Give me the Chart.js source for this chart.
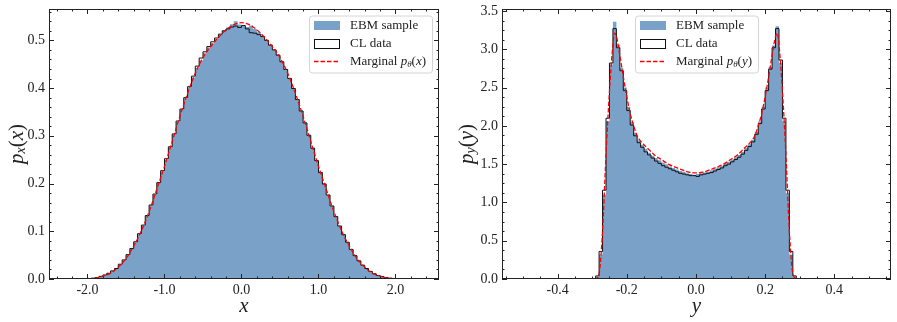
<!DOCTYPE html>
<html>
<head>
<meta charset="utf-8">
<title>EBM marginals</title>
<style>
  body { margin: 0; background: #fff; }
  canvas { position: absolute; top: 0; }
  #left { left: 0; }
  #right { left: 450px; }
</style>
</head>
<body>
<canvas id="left" width="450" height="322"></canvas>
<canvas id="right" width="447" height="322"></canvas>
<script src="https://cdn.jsdelivr.net/npm/chart.js"></script>
<script>
// ---- left panel: p_x(x) ----
const xBinStart = -2.1;
const xBinWidth = 0.05;
const ebmX = [
  0.0001, 0.0004, 0.0009, 0.0016, 0.003, 0.005, 0.008, 0.011, 0.016, 0.021,
  0.030, 0.039, 0.050, 0.063, 0.077, 0.094, 0.112, 0.132, 0.154, 0.177,
  0.201, 0.225, 0.250, 0.276, 0.303, 0.329, 0.354, 0.378, 0.401, 0.422,
  0.442, 0.458, 0.473, 0.485, 0.494, 0.503, 0.512, 0.520, 0.527, 0.534,
  0.540, 0.533,
  0.530, 0.528, 0.531, 0.524, 0.517, 0.509, 0.501, 0.491, 0.481, 0.470,
  0.456, 0.440, 0.421, 0.400, 0.377, 0.353, 0.328, 0.302, 0.275, 0.249,
  0.224, 0.200, 0.176, 0.153, 0.131, 0.111, 0.093, 0.077, 0.062, 0.049,
  0.038, 0.029, 0.021, 0.015, 0.011, 0.007, 0.005, 0.003, 0.0015, 0.0008,
  0.0004, 0.0001
];
const clX = [
  0.0001, 0.0003, 0.0008, 0.0017, 0.0032, 0.0055, 0.0085, 0.012, 0.017, 0.022,
  0.031, 0.040, 0.051, 0.064, 0.078, 0.095, 0.113, 0.133, 0.155, 0.178,
  0.202, 0.227, 0.252, 0.277, 0.304, 0.331, 0.356, 0.380, 0.403, 0.425,
  0.446, 0.463, 0.476, 0.487, 0.497, 0.505, 0.513, 0.520, 0.524, 0.528,
  0.530, 0.527,
  0.531, 0.524, 0.516, 0.515, 0.512, 0.508, 0.500, 0.490, 0.480, 0.469,
  0.455, 0.439, 0.420, 0.399, 0.376, 0.352, 0.327, 0.301, 0.274, 0.248,
  0.223, 0.199, 0.176, 0.153, 0.131, 0.111, 0.093, 0.077, 0.062, 0.049,
  0.038, 0.029, 0.022, 0.016, 0.011, 0.0075, 0.005, 0.0032, 0.0018, 0.0009,
  0.0004, 0.0001
];
// marginal p_theta(x) sampled every 0.1 from -2.5 to 2.5
const margXStart = -2.5;
const margXStep = 0.1;
const margX = [
  0, 0, 0, 0.0001, 0.0002, 0.0006, 0.002, 0.006, 0.012, 0.025,
  0.043, 0.069, 0.101, 0.141, 0.188, 0.236, 0.288, 0.341, 0.389, 0.431,
  0.464, 0.487, 0.506, 0.522, 0.533, 0.537, 0.533, 0.522, 0.506, 0.487,
  0.464, 0.431, 0.389, 0.341, 0.288, 0.236, 0.188, 0.141, 0.101, 0.069,
  0.043, 0.025, 0.012, 0.006, 0.002, 0.0006, 0.0002, 0.0001, 0, 0, 0
];
const leftXTicks = [-2, -1, 0, 1, 2];
const leftYTicks = [0, 0.1, 0.2, 0.3, 0.4, 0.5];

// ---- right panel: p_y(y) ----
const yBinStart = -0.3;
const yBinWidth = 0.01;
const ebmY = [
  0.002, 0.03, 0.32, 1.10, 2.06, 2.80, 3.36, 3.06, 2.76, 2.50,
  2.25, 2.05, 1.91, 1.81, 1.75, 1.70, 1.65, 1.61, 1.58, 1.55,
  1.52, 1.50, 1.47, 1.45, 1.43, 1.41, 1.40, 1.38, 1.37, 1.36,
  1.37, 1.38, 1.39, 1.40, 1.42, 1.44, 1.46, 1.48, 1.51, 1.53,
  1.56, 1.59, 1.62, 1.66, 1.71, 1.76, 1.82, 1.92, 2.06, 2.25,
  2.50, 2.77, 3.05, 3.30, 2.82, 2.06, 1.12, 0.32, 0.03, 0.002
];
const clY = [
  0.001, 0.04, 0.36, 1.16, 2.10, 2.82, 3.27, 3.02, 2.72, 2.46,
  2.20, 2.01, 1.87, 1.78, 1.72, 1.66, 1.62, 1.58, 1.54, 1.51,
  1.48, 1.46, 1.44, 1.42, 1.40, 1.38, 1.37, 1.36, 1.35, 1.35,
  1.34, 1.36, 1.37, 1.38, 1.39, 1.41, 1.43, 1.45, 1.48, 1.50,
  1.53, 1.56, 1.59, 1.63, 1.68, 1.73, 1.79, 1.89, 2.03, 2.22,
  2.46, 2.74, 3.02, 3.27, 2.86, 2.10, 1.16, 0.36, 0.04, 0.001
];
const margYAt = [
  -0.50, -0.40, -0.30, -0.29, -0.28, -0.27, -0.26, -0.25, -0.24, -0.235,
  -0.23, -0.22, -0.21, -0.20, -0.19, -0.18, -0.17, -0.16, -0.14, -0.12,
  -0.10, -0.08, -0.06, -0.04, -0.02, 0.00, 0.02, 0.04, 0.06, 0.08,
  0.10, 0.12, 0.14, 0.16, 0.17, 0.18, 0.19, 0.20, 0.21, 0.22,
  0.23, 0.235, 0.24, 0.25, 0.26, 0.27, 0.28, 0.29, 0.30, 0.40, 0.50
];
const margY = [
  0, 0, 0, 0.005, 0.07, 0.62, 1.62, 2.45, 3.06, 3.21,
  3.17, 2.92, 2.64, 2.38, 2.16, 2.00, 1.87, 1.80, 1.71, 1.62,
  1.56, 1.50, 1.46, 1.425, 1.395, 1.385, 1.395, 1.425, 1.46, 1.50,
  1.56, 1.62, 1.71, 1.80, 1.87, 2.00, 2.16, 2.38, 2.64, 2.92,
  3.17, 3.21, 3.06, 2.45, 1.62, 0.62, 0.07, 0.005, 0, 0, 0
];
const rightXTicks = [-0.4, -0.2, 0, 0.2, 0.4];
const rightYTicks = [0, 0.5, 1.0, 1.5, 2.0, 2.5, 3.0, 3.5];

const FONT = 'Liberation Serif';
const INK = '#222';
const BLUE = '#7aa1c7';

function fontStr(size, italic) {
  return (italic ? 'italic ' : '') + size + 'px "' + FONT + '"';
}

// parts: [text, size, italic, dy]
function richText(ctx, parts, x, y, align) {
  let w = 0;
  parts.forEach(p => { ctx.font = fontStr(p[1], p[2]); w += ctx.measureText(p[0]).width; });
  let cx = align === 'center' ? x - w / 2 : x;
  ctx.textAlign = 'left';
  parts.forEach(p => {
    ctx.font = fontStr(p[1], p[2]);
    ctx.fillText(p[0], cx, y + (p[3] || 0));
    cx += ctx.measureText(p[0]).width;
  });
  return w;
}
function richWidth(ctx, parts) {
  let w = 0;
  parts.forEach(p => { ctx.font = fontStr(p[1], p[2]); w += ctx.measureText(p[0]).width; });
  return w;
}

// one point per bin left edge, closed down to zero at both ends
function stepPoints(start, width, vals) {
  const pts = [{x: start, y: 0}];
  vals.forEach((v, i) => pts.push({x: start + i * width, y: v}));
  pts.push({x: start + vals.length * width, y: vals[vals.length - 1]});
  pts.push({x: start + vals.length * width, y: 0});
  return pts;
}

function decor(p) {
  return {
    id: 'decor',
    afterDraw(chart) {
      const {ctx, chartArea: a, scales} = chart;
      ctx.save();
      ctx.strokeStyle = INK;
      ctx.lineWidth = 1;
      ctx.strokeRect(a.left + 0.5, a.top + 0.5, a.right - a.left - 1, a.bottom - a.top - 1);

      ctx.beginPath();
      const isMajor = (list, v) => list.some(m => Math.abs(m - v) < 1e-6);
      const xTick = (v, len) => {
        const px = Math.round(scales.x.getPixelForValue(v)) + 0.5;
        ctx.moveTo(px, a.bottom); ctx.lineTo(px, a.bottom - len);
        ctx.moveTo(px, a.top); ctx.lineTo(px, a.top + len);
      };
      const yTick = (v, len) => {
        const py = Math.round(scales.y.getPixelForValue(v)) + 0.5;
        ctx.moveTo(a.left, py); ctx.lineTo(a.left + len, py);
        ctx.moveTo(a.right, py); ctx.lineTo(a.right - len, py);
      };
      p.xTicks.forEach(v => xTick(v, 5));
      p.yTicks.forEach(v => yTick(v, 5));
      for (let k = Math.ceil(p.xMin / p.xMinor - 1e-9); k * p.xMinor <= p.xMax + 1e-9; k++) {
        const v = k * p.xMinor;
        if (!isMajor(p.xTicks, v)) xTick(v, 2.5);
      }
      for (let k = 1; k * p.yMinor <= p.yMax + 1e-9; k++) {
        const v = k * p.yMinor;
        if (!isMajor(p.yTicks, v)) yTick(v, 2.5);
      }
      ctx.stroke();

      // axis titles
      ctx.fillStyle = INK;
      ctx.textBaseline = 'middle';
      richText(ctx, [[p.varName, 21, true]], (a.left + a.right) / 2, 306, 'center');
      ctx.save();
      ctx.translate(17, (a.top + a.bottom) / 2);
      ctx.rotate(-Math.PI / 2);
      richText(ctx, [['p', 21, true], [p.varName, 14, true, 4], ['(', 21, false], [p.varName, 21, true], [')', 21, false]], 0, 0, 'center');
      ctx.restore();

      // legend
      const rows = [
        [['EBM sample', 13, false]],
        [['CL data', 13, false]],
        [['Marginal ', 13, false], ['p', 13, true], ['\u03b8', 9, true, 3], ['(', 13, false], [p.varName, 13, true], [')', 13, false]]
      ];
      const textW = Math.max(...rows.map(r => richWidth(ctx, r)));
      const bw = 5 + 26 + 10 + textW + 6;
      const bh = 57;
      const bx = p.legendAlign === 'right' ? a.right - 7 - bw : (a.left + a.right) / 2 - bw / 2;
      const by = a.top + 6.5;
      ctx.beginPath();
      ctx.roundRect(bx + 0.5, by + 0.5, bw, bh, 3);
      ctx.fillStyle = 'rgba(255,255,255,0.85)';
      ctx.fill();
      ctx.strokeStyle = '#d4d4d4';
      ctx.lineWidth = 1;
      ctx.stroke();
      const rowY = [by + 10, by + 27.5, by + 46];
      const px0 = Math.round(bx + 5);
      ctx.fillStyle = BLUE;
      ctx.fillRect(px0, rowY[0] - 4.5, 26, 9);
      ctx.strokeStyle = '#111';
      ctx.strokeRect(px0 + 0.5, Math.round(rowY[1] - 4.5) + 0.5, 25, 9);
      ctx.beginPath();
      ctx.setLineDash([4.5, 2]);
      ctx.strokeStyle = '#ff0000';
      ctx.lineWidth = 1.3;
      ctx.moveTo(px0, rowY[2]); ctx.lineTo(px0 + 26, rowY[2]);
      ctx.stroke();
      ctx.setLineDash([]);
      ctx.fillStyle = INK;
      rows.forEach((r, i) => richText(ctx, r, px0 + 36, rowY[i] + 0.5, 'left'));
      ctx.restore();
    }
  };
}

function makeChart(id, p) {
  const tickFont = {family: FONT, size: 14};
  return new Chart(document.getElementById(id), {
    type: 'line',
    data: {
      datasets: [
        {
          label: 'Marginal',
          data: p.margAt.map((x, i) => ({x: x, y: p.marg[i]})),
          borderColor: '#ff0000', borderWidth: 1.3, borderDash: [4.5, 2],
          pointRadius: 0, cubicInterpolationMode: 'monotone', fill: false, order: 0
        },
        {
          label: 'CL data',
          data: stepPoints(p.binStart, p.binWidth, p.cl),
          stepped: 'before', borderColor: '#111', borderWidth: 1,
          pointRadius: 0, fill: false, order: 1
        },
        {
          label: 'EBM sample',
          data: stepPoints(p.binStart, p.binWidth, p.ebm),
          stepped: 'before', borderColor: 'rgba(0,0,0,0)', borderWidth: 0,
          backgroundColor: BLUE, fill: 'origin', pointRadius: 0, order: 2
        }
      ]
    },
    options: {
      responsive: false,
      animation: false,
      devicePixelRatio: 1,
      layout: {padding: {left: 0, right: p.padRight, top: 9, bottom: 0}},
      plugins: {legend: {display: false}, tooltip: {enabled: false}},
      scales: {
        x: {
          type: 'linear', min: p.xMin, max: p.xMax,
          grid: {display: false, drawTicks: false}, border: {display: false},
          afterBuildTicks: s => { s.ticks = p.xTicks.map(v => ({value: v})); },
          afterFit: s => { s.height = 43; s.paddingLeft = 0; s.paddingRight = 0; },
          ticks: {padding: 3, color: INK, font: tickFont, maxRotation: 0, autoSkip: false,
                  callback: v => v.toFixed(1)}
        },
        y: {
          type: 'linear', min: 0, max: p.yMax,
          grid: {display: false, drawTicks: false}, border: {display: false},
          afterBuildTicks: s => { s.ticks = p.yTicks.map(v => ({value: v})); },
          afterFit: s => { s.width = p.yAxisWidth; s.paddingTop = 0; s.paddingBottom = 0; },
          ticks: {padding: 4, color: INK, font: tickFont, autoSkip: false,
                  callback: v => v.toFixed(1)}
        }
      }
    },
    plugins: [decor(p)]
  });
}

makeChart('left', {
  binStart: xBinStart, binWidth: xBinWidth, ebm: ebmX, cl: clX,
  margAt: margX.map((_, i) => margXStart + i * margXStep), marg: margX,
  xMin: -2.5, xMax: 2.565, xTicks: leftXTicks, xMinor: 0.2,
  yMax: 0.5657, yTicks: leftYTicks, yMinor: 0.02,
  yAxisWidth: 49, padRight: 11, varName: 'x', legendAlign: 'right'
});
makeChart('right', {
  binStart: yBinStart, binWidth: yBinWidth, ebm: ebmY, cl: clY,
  margAt: margYAt, marg: margY,
  xMin: -0.5606, xMax: 0.5637, xTicks: rightXTicks, xMinor: 0.05,
  yMax: 3.526, yTicks: rightYTicks, yMinor: 0.125,
  yAxisWidth: 52, padRight: 6, varName: 'y', legendAlign: 'center'
});
</script>
</body>
</html>
